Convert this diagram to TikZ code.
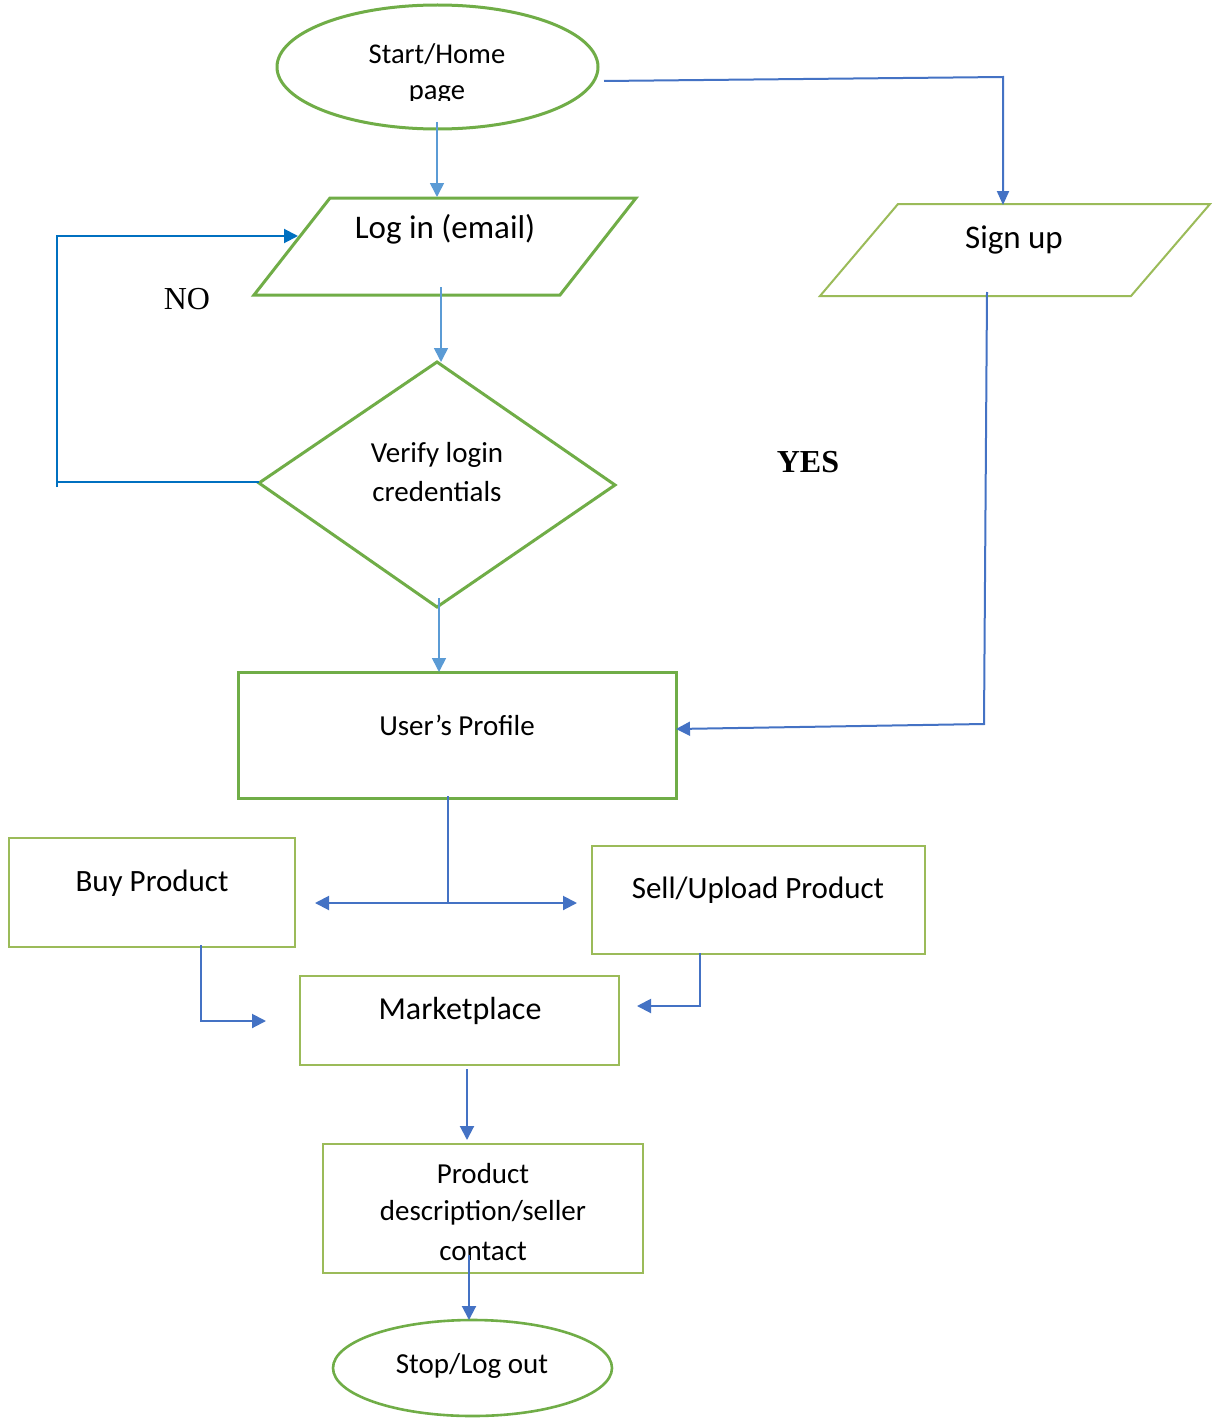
\documentclass[tikz,border=0pt]{standalone}
\usepackage{fontspec}
\setmainfont{Carlito}
\newfontfamily\timesfont{Liberation Serif}
\usetikzlibrary{arrows.meta,shapes.geometric}
\definecolor{gdark}{HTML}{70AD47}
\definecolor{glight}{HTML}{9BBB59}
\definecolor{bmain}{HTML}{4472C4}
\definecolor{bsky}{HTML}{5B9BD5}
\definecolor{bloop}{HTML}{0070C0}
\tikzset{
  x=0.5pt, y=-0.5pt,
  thickshape/.style={draw=gdark, line width=1.5pt},
  thinshape/.style={draw=glight, line width=1pt},
  boxnode/.style={rectangle, thinshape, inner sep=0pt},
  txt/.style={inner sep=0pt, anchor=center, text=black},
  skyline/.style={draw=bsky, line width=0.8pt},
  mainline/.style={draw=bmain, line width=1pt},
  loopline/.style={draw=bloop, line width=1pt},
}
\begin{document}
\begin{tikzpicture}
\useasboundingbox (0,0) rectangle (1212,1418);
\fill[white] (0,0) rectangle (1212,1418);

% ---------- shapes ----------
\node[ellipse, thickshape, minimum width=160.5pt, minimum height=62pt, inner sep=0pt] (start) at (437.5,67) {};
\node[txt, font=\fontsize{14.3}{16}\selectfont] (starttxt) at (437,54) {Start/Home};
\begin{scope}
  \clip (277,0) rectangle (598,101);
  \node[inner sep=0pt, anchor=base, font=\fontsize{14.3}{16}\selectfont] (pagetxt) at (437,100) {page};
\end{scope}

% log in parallelogram
\draw[thickshape] (330,198) -- (636,198) -- (560,295) -- (254,295) -- cycle;
\node[txt, font=\fontsize{16.5}{19}\selectfont] (login) at (445,229) {Log in (email)};

% sign up parallelogram
\draw[thinshape] (898,204) -- (1210,204) -- (1131,296) -- (820,296) -- cycle;
\node[txt, font=\fontsize{16.5}{19}\selectfont] (signup) at (1014,240) {Sign up};

% decision diamond
\draw[thickshape] (437,362) -- (615,485) -- (437,607) -- (259,483) -- cycle;
\node[txt, font=\fontsize{14.5}{16}\selectfont] (verify1) at (437,455) {Verify login};
\node[txt, font=\fontsize{14.5}{16}\selectfont] (verify2) at (437,492) {credentials};

% user profile
\node[rectangle, thickshape, inner sep=0pt, minimum width=219pt, minimum height=63pt] (profile) at (457,735) {};
\node[txt, font=\fontsize{14.5}{16}\selectfont] (profiletxt) at (457,725) {User’s Profile};

% buy / sell
\node[boxnode, minimum width=143pt, minimum height=54.5pt] (buy) at (152,892.5) {};
\node[txt, font=\fontsize{15.5}{17}\selectfont] (buytxt) at (152,883) {Buy Product};
\node[boxnode, minimum width=166.5pt, minimum height=54pt] (sell) at (758.5,900) {};
\node[txt, font=\fontsize{15.5}{17}\selectfont] (selltxt) at (758,890) {Sell/Upload Product};

% marketplace
\node[boxnode, minimum width=159.5pt, minimum height=44.5pt] (market) at (459.5,1020.5) {};
\node[txt, font=\fontsize{16}{18}\selectfont] (markettxt) at (460,1011) {Marketplace};

% product description
\node[boxnode, minimum width=160pt, minimum height=64.5pt] (product) at (483,1208.5) {};
\node[txt, font=\fontsize{14.5}{16}\selectfont] (prod1) at (483,1174) {Product};
\node[txt, font=\fontsize{14.5}{16}\selectfont] (prod2) at (483,1213) {description/seller};
\node[txt, font=\fontsize{14.5}{16}\selectfont] (prod3) at (483,1251) {contact};

% stop
\node[ellipse, draw=gdark, line width=1.3pt, minimum width=139.5pt, minimum height=48pt, inner sep=0pt] (stop) at (472.5,1368) {};
\node[txt, font=\fontsize{14.5}{16}\selectfont] (stoptxt) at (472,1366) {Stop/Log out};

% branch labels
\node[txt, font=\timesfont\fontsize{16}{18}\selectfont] (no) at (187,299) {NO};
\node[txt, font=\timesfont\bfseries\fontsize{16}{18}\selectfont] (yes) at (808,462) {YES};

% ---------- connector end points ----------
\coordinate (s1) at (437,122);  \coordinate (s2) at (437,197);
\coordinate (r1) at (604,81);   \coordinate (r2) at (1003,77);  \coordinate (r3) at (1003,205);
\coordinate (l1) at (441,287);  \coordinate (l2) at (441,362);
\coordinate (n1) at (259,482);  \coordinate (n2) at (57,482);
\coordinate (n0) at (57,487);
\coordinate (n3) at (57,236);   \coordinate (n4) at (298,236);
\coordinate (v1) at (439,598);  \coordinate (v2) at (439,672);
\coordinate (u1) at (987,292);  \coordinate (u2) at (984,724);  \coordinate (u3) at (676,729);
\coordinate (p1) at (448,796);  \coordinate (p2) at (448,903);
\coordinate (pl) at (315,903);  \coordinate (pr) at (577,903);
\coordinate (b1) at (201,945);  \coordinate (b2) at (201,1021); \coordinate (b3) at (266,1021);
\coordinate (e1) at (700,953);  \coordinate (e2) at (700,1006); \coordinate (e3) at (637,1006);
\coordinate (m1) at (467,1069); \coordinate (m2) at (467,1140);
\coordinate (d1) at (469,1255); \coordinate (d2) at (469,1320);

% ---------- connectors ----------
\draw[skyline, -{Triangle[length=7pt,width=7pt]}] (s1) -- (s2);
\draw[mainline, -{Triangle[length=7pt,width=6pt]}] (r1) -- (r2) -- (r3);
\draw[skyline, -{Triangle[length=7pt,width=7pt]}] (l1) -- (l2);
\draw[loopline] (n1) -- (n2);
\draw[loopline, -{Triangle[length=7pt,width=7pt]}] (n0) -- (n3) -- (n4);
\draw[skyline, -{Triangle[length=7pt,width=7pt]}] (v1) -- (v2);
\draw[mainline, -{Triangle[length=7pt,width=7pt]}] (u1) -- (u2) -- (u3);
\draw[mainline] (p1) -- (p2);
\draw[mainline, -{Triangle[length=7pt,width=7pt]}] (p2) -- (pl);
\draw[mainline, -{Triangle[length=7pt,width=7pt]}] (p2) -- (pr);
\draw[mainline, -{Triangle[length=7pt,width=7pt]}] (b1) -- (b2) -- (b3);
\draw[mainline, -{Triangle[length=7pt,width=7pt]}] (e1) -- (e2) -- (e3);
\draw[mainline, -{Triangle[length=7pt,width=7pt]}] (m1) -- (m2);
\draw[mainline, -{Triangle[length=7pt,width=7pt]}] (d1) -- (d2);
\end{tikzpicture}
\end{document}
